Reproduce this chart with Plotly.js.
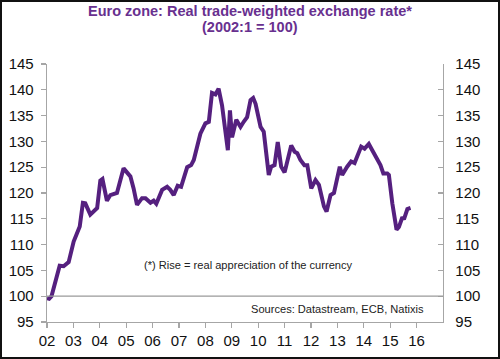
<!DOCTYPE html>
<html>
<head>
<meta charset="utf-8">
<script src="https://cdn.plot.ly/plotly-3.0.1.min.js"></script>
<style>
html,body{margin:0;padding:0;background:#fff;overflow:hidden;}
#wrap{position:relative;width:500px;height:359px;}
#chart{width:500px;height:359px;}
#frame{position:absolute;left:0;top:0;width:500px;height:359px;box-sizing:border-box;border:2px solid #111;pointer-events:none;}
</style>
</head>
<body>
<div id="wrap"><div id="chart"></div><div id="frame"></div></div>
<script>
// Time in decimal years, real trade-weighted exchange rate (2002:1 = 100)
const years = [
2002.00,2002.08,2002.17,2002.31,2002.48,2002.63,2002.82,
2003.01,2003.24,2003.36,2003.45,2003.64,2003.77,2003.90,
2004.02,2004.10,2004.27,2004.40,2004.65,2004.90,
2005.06,2005.16,2005.28,2005.41,2005.60,2005.73,2005.92,
2006.04,2006.14,2006.36,2006.55,2006.67,2006.80,2006.95,
2007.08,2007.31,2007.46,2007.56,2007.81,
2008.00,2008.13,2008.25,2008.38,2008.50,2008.63,2008.76,2008.85,2008.93,
2009.01,2009.17,2009.33,2009.45,2009.58,2009.71,2009.81,2009.90,
2010.09,2010.21,2010.40,2010.49,2010.62,2010.74,2010.87,
2011.00,2011.25,2011.38,2011.48,2011.60,2011.75,2011.86,
2012.01,2012.17,2012.30,2012.49,2012.59,2012.74,2012.87,
2013.09,2013.18,2013.37,2013.52,2013.65,2013.75,2013.90,
2014.03,2014.19,2014.32,2014.51,2014.63,2014.74,2014.89,2014.95,
2015.08,2015.24,2015.33,2015.46,2015.52,2015.65,2015.77
];
const rate = [
99.6,99.5,100.0,102.6,105.9,105.8,106.6,
110.6,113.5,118.1,118.0,115.8,116.4,117.1,
122.4,122.7,118.5,119.6,120.0,124.8,
123.8,123.2,120.9,117.7,119.0,119.0,118.1,
118.5,117.9,120.6,121.2,120.6,119.6,121.4,
121.2,125.0,125.4,126.4,131.5,
133.5,133.8,139.4,139.1,140.2,137.0,131.5,128.3,136.0,
130.8,134.2,132.8,133.8,134.7,138.0,138.4,137.3,
132.8,131.9,123.5,125.1,125.4,129.9,125.1,
124.0,129.2,128.0,127.7,126.4,125.4,125.4,
120.9,122.5,121.6,117.4,116.4,119.6,120.0,
125.1,123.5,125.1,126.1,125.8,127.0,129.0,
128.6,129.5,128.3,126.4,125.4,123.8,123.8,123.5,
118.0,112.9,113.4,115.3,114.9,116.9,117.1
];
const tickYears = [2002,2003,2004,2005,2006,2007,2008,2009,2010,2011,2012,2013,2014,2015,2016];
const tickLabels = ["02","03","04","05","06","07","08","09","10","11","12","13","14","15","16"];
const baseline = 100;

const purple = '#55207f';
const titlePurple = '#68308f';
const axisGray = '#a6a6a6';
const font = 'Liberation Sans, Arial, sans-serif';

const traces = [
  {x: years, y: rate, type: 'scatter', mode: 'lines',
   line: {color: purple, width: 4}, hoverinfo: 'skip', showlegend: false},
  {x: years, y: rate, type: 'scatter', mode: 'lines', yaxis: 'y2',
   line: {color: 'rgba(0,0,0,0)', width: 0}, hoverinfo: 'skip', showlegend: false}
];

const yCommon = {
  range: [95, 145], dtick: 5, tick0: 95, showgrid: false, zeroline: false,
  showline: true, linecolor: axisGray, linewidth: 1.3,
  ticklen: 5, tickcolor: axisGray, tickwidth: 1.3,
  tickfont: {family: font, size: 15, color: '#111'}
};

const layout = {
  width: 500, height: 359,
  margin: {l: 47, r: 57, t: 64, b: 37, autoexpand: false},
  paper_bgcolor: '#fff', plot_bgcolor: '#fff',
  title: {
    text: '<b>Euro zone: Real trade-weighted exchange rate*</b>',
    font: {family: font, size: 14.5, color: titlePurple},
    x: 0.5, xanchor: 'center', xref: 'container', yref: 'container', y: 0.97, yanchor: 'middle'
  },
  xaxis: {
    range: [2002, 2017], tickvals: tickYears, ticktext: tickLabels,
    showgrid: false, zeroline: false, showline: true, linecolor: axisGray, linewidth: 1.3,
    ticks: 'outside', ticklen: 5, tickcolor: axisGray, tickwidth: 1.3,
    tickfont: {family: font, size: 15, color: '#111'}
  },
  yaxis: Object.assign({}, yCommon, {ticks: 'outside', side: 'left', ticklabelstandoff: 4}),
  yaxis2: Object.assign({}, yCommon, {ticks: 'inside', side: 'right', overlaying: 'y', ticklabelstandoff: 8}),
  shapes: [
    {type: 'line', xref: 'paper', x0: 0, x1: 1, yref: 'y', y0: baseline, y1: baseline,
     line: {color: '#9a9a9a', width: 1.3}}
  ],
  annotations: [
    {text: '<b>(2002:1 = 100)</b>', xref: 'paper', yref: 'paper',
     x: 0.5136, y: 1.145, showarrow: false, xanchor: 'center', yanchor: 'middle',
     font: {family: font, size: 14.5, color: titlePurple}},
    {text: '(*) Rise = real appreciation of the currency', xref: 'paper', yref: 'y',
     x: 0.509, y: 106.1, showarrow: false, xanchor: 'center', yanchor: 'middle',
     font: {family: font, size: 11.1, color: '#222'}},
    {text: 'Sources: Datastream, ECB, Natixis', xref: 'paper', yref: 'y',
     x: 0.956, y: 97.6, showarrow: false, xanchor: 'right', yanchor: 'middle',
     font: {family: font, size: 11.1, color: '#222'}}
  ]
};

Plotly.newPlot('chart', traces, layout, {staticPlot: true, displayModeBar: false});
</script>
</body>
</html>
